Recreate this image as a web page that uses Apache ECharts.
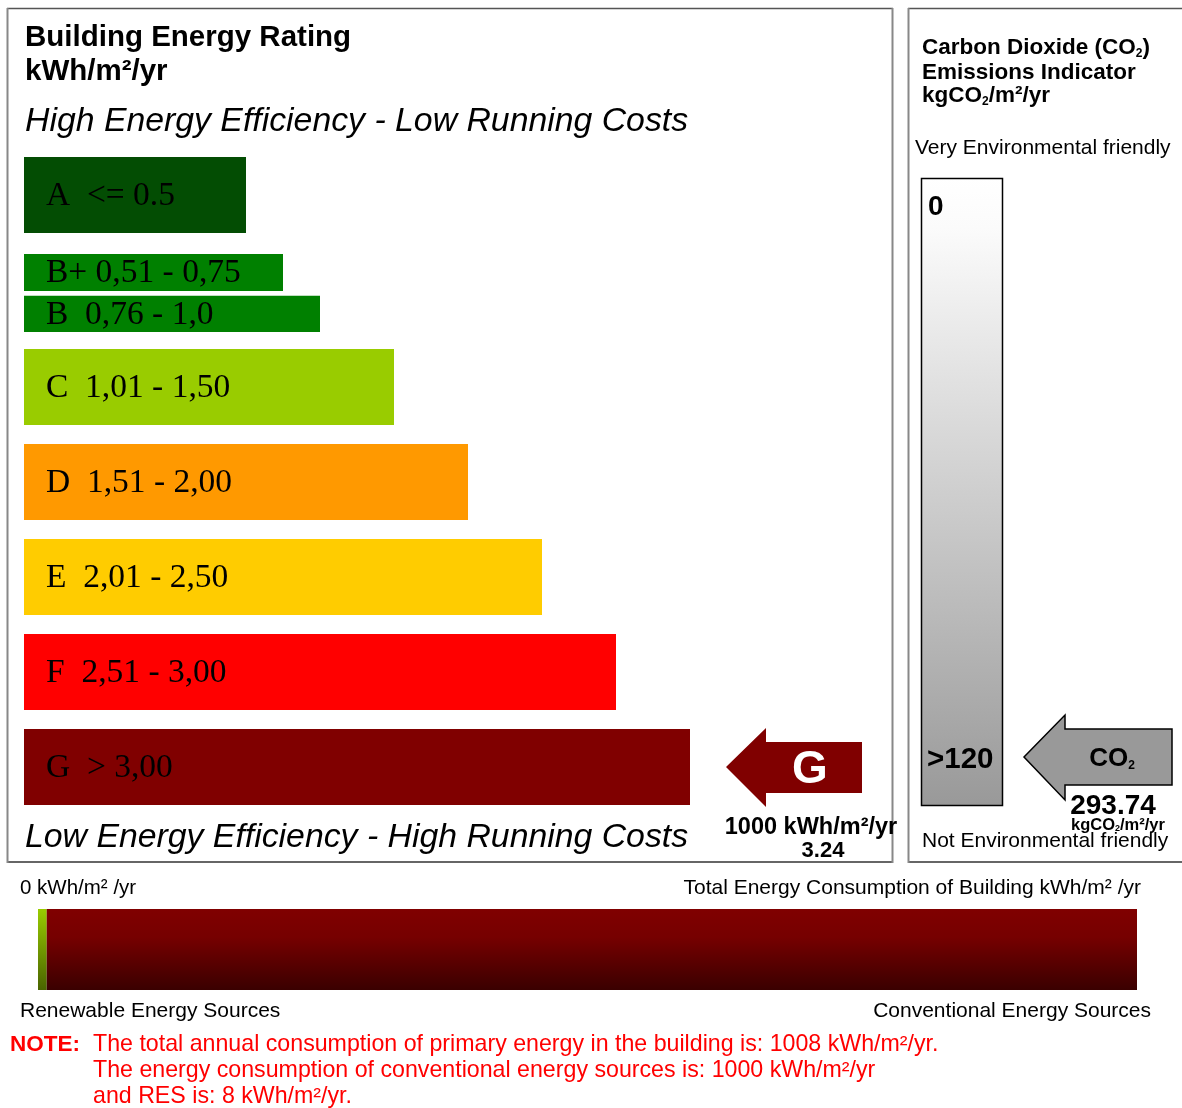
<!DOCTYPE html>
<html>
<head>
<meta charset="utf-8">
<script src="https://cdn.jsdelivr.net/npm/echarts@6/dist/echarts.min.js"></script>
<style>
html,body{margin:0;padding:0;background:#fff;}
#chart{width:1182px;height:1108px;}
</style>
</head>
<body>
<div id="chart"></div>
<script>
// ---------------- data ----------------
const ratingLabels = ['A  <= 0.5', 'B+ 0,51 - 0,75', 'B  0,76 - 1,0', 'C  1,01 - 1,50', 'D  1,51 - 2,00', 'E  2,01 - 2,50', 'F  2,51 - 3,00', 'G  > 3,00'];
const ratingClasses = ['A', 'B+', 'B', 'C', 'D', 'E', 'F', 'G'];
const ratingLengths = [6, 7, 8, 10, 12, 14, 16, 18];
const ratingColors = ['#034d03', '#008000', '#008000', '#99cc00', '#ff9900', '#ffcc00', '#ff0000', '#800000'];
const buildingClass = 'G';
const buildingEnergy = 1000;
const buildingRatio = 3.24;
const co2Value = 293.74;
const co2ScaleMax = 120;
const co2ScaleLabels = ['0', '>120'];
const resEnergy = 8;
const conventionalEnergy = 1000;
const totalEnergy = 1008;

// ---------------- layout helpers ----------------
const SANS = '"Liberation Sans", Arial, sans-serif';
const SERIF = '"Liberation Serif", "Times New Roman", serif';
// vertical extent (in row units) of each rating bar
const rowSpans = [[-0.021, 0.78], [1.0, 1.39], [1.44, 1.82], [2, 2.8], [3, 3.8], [4, 4.8], [5, 5.8], [6, 6.8]];
const buildingIdx = ratingClasses.indexOf(buildingClass);

function txt(x, y, text, font, opts) {
  opts = opts || {};
  return {
    type: 'text', x: x, y: y, silent: true,
    style: {
      text: text, font: font, fill: opts.fill || '#000',
      align: opts.align || 'left', verticalAlign: 'middle'
    }
  };
}
function richText(x, y, text, size, weight, opts) {
  opts = opts || {};
  const fill = opts.fill || '#000';
  return {
    type: 'text', x: x, y: y, silent: true,
    style: {
      text: text, align: opts.align || 'left', verticalAlign: 'middle',
      fontSize: size, fontWeight: weight, fontFamily: SANS, fill: fill,
      rich: {
        n: {fontSize: size, fontWeight: weight, fontFamily: SANS, fill: fill},
        sub: {fontSize: Math.round(size * 0.55), fontWeight: weight, fontFamily: SANS, fill: fill, verticalAlign: 'bottom'}
      }
    }
  };
}
function line(x1, y1, x2, y2, color, w) {
  return {type: 'line', silent: true, shape: {x1: x1, y1: y1, x2: x2, y2: y2}, style: {stroke: color, lineWidth: w}};
}

const chart = echarts.init(document.getElementById('chart'), null, {renderer: 'canvas'});

const option = {
  backgroundColor: '#fff',
  animation: false,
  grid: [
    {left: 24, top: 159, width: 851, height: 665},
    {left: 921, top: 178, width: 81, height: 627},
    {left: 38, top: 909, width: 1099, height: 81}
  ],
  xAxis: [
    {type: 'value', gridIndex: 0, min: 0, max: 23, show: false},
    {type: 'value', gridIndex: 1, min: 0, max: 1, show: false},
    {type: 'value', gridIndex: 2, min: 0, max: totalEnergy, show: false}
  ],
  yAxis: [
    {type: 'value', gridIndex: 0, min: 0, max: 7, inverse: true, show: false},
    {type: 'value', gridIndex: 1, min: 0, max: co2ScaleMax, inverse: true, show: false},
    {type: 'category', gridIndex: 2, data: ['energy'], show: false}
  ],
  series: [
    // rating bars
    {
      type: 'custom', xAxisIndex: 0, yAxisIndex: 0, clip: false,
      data: ratingLengths.map((v, i) => [v, i]),
      encode: {x: 0, y: 1},
      renderItem: function (params, api) {
        const len = api.value(0), i = api.value(1);
        const p0 = api.coord([0, rowSpans[i][0]]);
        const p1 = api.coord([len, rowSpans[i][1]]);
        return {
          type: 'group',
          children: [
            {type: 'rect', shape: {x: p0[0], y: p0[1], width: p1[0] - p0[0], height: p1[1] - p0[1]},
             style: {fill: ratingColors[i]}},
            {type: 'text', x: p0[0] + 22, y: (p0[1] + p1[1]) / 2 + 1,
             style: {text: ratingLabels[i], font: '33.5px ' + SERIF, fill: '#000', align: 'left', verticalAlign: 'middle'}}
          ]
        };
      }
    },
    // building rating arrow
    {
      type: 'custom', xAxisIndex: 0, yAxisIndex: 0, clip: false,
      data: [[ratingLengths[buildingIdx], buildingIdx]],
      encode: {x: 0, y: 1},
      renderItem: function (params, api) {
        const i = api.value(1);
        const pe = api.coord([api.value(0), (rowSpans[i][0] + rowSpans[i][1]) / 2]);
        const x0 = pe[0] + 36, yc = pe[1];
        const pts = [[0, 0], [40, -39], [40, -25], [136, -25], [136, 26], [40, 26], [40, 40]]
          .map(p => [x0 + p[0], yc + p[1]]);
        return {
          type: 'group',
          children: [
            {type: 'polygon', shape: {points: pts}, style: {fill: ratingColors[i]}},
            {type: 'text', x: x0 + 84, y: yc + 3,
             style: {text: ratingClasses[i], font: 'bold 46px ' + SANS, fill: '#fff', align: 'center', verticalAlign: 'middle'}},
            {type: 'text', x: x0 + 85, y: yc + 61,
             style: {text: buildingEnergy + ' kWh/m²/yr', font: 'bold 23.5px ' + SANS, fill: '#000', align: 'center', verticalAlign: 'middle'}},
            {type: 'text', x: x0 + 97, y: yc + 84,
             style: {text: buildingRatio.toFixed(2), font: 'bold 22px ' + SANS, fill: '#000', align: 'center', verticalAlign: 'middle'}}
          ]
        };
      }
    },
    // CO2 scale bar
    {
      type: 'custom', xAxisIndex: 1, yAxisIndex: 1, clip: false,
      data: [[1, co2ScaleMax]],
      encode: {x: 0, y: 1},
      renderItem: function (params, api) {
        const p0 = api.coord([0, 0]);
        const p1 = api.coord([api.value(0), api.value(1)]);
        return {
          type: 'group',
          children: [
            {type: 'rect', shape: {x: p0[0] + 0.5, y: p0[1] + 0.5, width: p1[0] - p0[0], height: p1[1] - p0[1]},
             style: {fill: new echarts.graphic.LinearGradient(0, 0, 0, 1, [
               {offset: 0, color: '#ffffff'}, {offset: 0.08, color: '#fbfbfb'}, {offset: 1, color: '#999999'}]),
               stroke: '#000', lineWidth: 1.5}},
            {type: 'text', x: p0[0] + 7, y: p0[1] + 29,
             style: {text: co2ScaleLabels[0], font: 'bold 28px ' + SANS, fill: '#000', align: 'left', verticalAlign: 'middle'}},
            {type: 'text', x: p0[0] + 6, y: p1[1] - 45,
             style: {text: co2ScaleLabels[1], font: 'bold 29.5px ' + SANS, fill: '#000', align: 'left', verticalAlign: 'middle'}}
          ]
        };
      }
    },
    // CO2 arrow
    {
      type: 'custom', xAxisIndex: 1, yAxisIndex: 1, clip: false,
      data: [[1, Math.min(co2Value, co2ScaleMax), co2Value]],
      encode: {x: 0, y: 1},
      renderItem: function (params, api) {
        const p = api.coord([api.value(0), api.value(1)]);
        const x0 = p[0] + 22, yc = p[1] - 48;
        const pts = [[0, 0], [41, -42], [41, -28], [148, -28], [148, 28], [41, 28], [41, 43]]
          .map(q => [x0 + q[0], yc + q[1]]);
        return {
          type: 'group',
          children: [
            {type: 'polygon', shape: {points: pts}, style: {fill: '#999999', stroke: '#000', lineWidth: 1.5}},
            {type: 'text', x: x0 + 88, y: yc + 2,
             style: {text: '{n|CO}{sub|2}', align: 'center', verticalAlign: 'middle',
               rich: {n: {font: 'bold 26px ' + SANS, fill: '#000'},
                      sub: {font: 'bold 12px ' + SANS, fill: '#000', verticalAlign: 'bottom'}}}},
            {type: 'text', x: x0 + 89, y: yc + 49,
             style: {text: api.value(2).toFixed(2), font: 'bold 28px ' + SANS, fill: '#000', align: 'center', verticalAlign: 'middle'}},
            {type: 'text', x: x0 + 94, y: yc + 68,
             style: {text: '{n|kgCO}{sub|2}{n|/m²/yr}', align: 'center', verticalAlign: 'middle',
               rich: {n: {font: 'bold 16.5px ' + SANS, fill: '#000'},
                      sub: {font: 'bold 9px ' + SANS, fill: '#000', verticalAlign: 'bottom'}}}}
          ]
        };
      }
    },
    // energy sources bar
    {
      type: 'bar', xAxisIndex: 2, yAxisIndex: 2, stack: 'energy', barWidth: '100%',
      data: [resEnergy],
      itemStyle: {color: new echarts.graphic.LinearGradient(0, 0, 0, 1, [
        {offset: 0, color: '#99cc00'}, {offset: 1, color: '#4a6400'}])},
      silent: true
    },
    {
      type: 'bar', xAxisIndex: 2, yAxisIndex: 2, stack: 'energy', barWidth: '100%',
      data: [conventionalEnergy],
      itemStyle: {color: new echarts.graphic.LinearGradient(0, 0, 0, 1, [
        {offset: 0, color: '#800000'}, {offset: 0.35, color: '#760000'}, {offset: 1, color: '#3a0000'}])},
      silent: true
    }
  ],
  graphic: [
    // panels
    line(7, 8.5, 893, 8.5, '#555', 1.5),
    line(7, 862, 893, 862, '#333', 1.5),
    line(7.5, 8, 7.5, 863, '#888', 2),
    line(892.5, 8, 892.5, 863, '#888', 2),
    line(908, 8.5, 1182, 8.5, '#555', 1.5),
    line(908, 862, 1182, 862, '#333', 1.5),
    line(908.5, 8, 908.5, 863, '#888', 2),
    // left panel texts
    txt(25, 38, 'Building Energy Rating', 'bold 29.5px ' + SANS),
    txt(25, 72, 'kWh/m²/yr', 'bold 29.5px ' + SANS),
    txt(25, 122, 'High Energy Efficiency - Low Running Costs', 'italic 33.8px ' + SANS),
    txt(25, 838, 'Low Energy Efficiency - High Running Costs', 'italic 33.8px ' + SANS),
    // right panel texts
    richText(922, 48, '{n|Carbon Dioxide (CO}{sub|2}{n|)}', 22.5, 'bold'),
    richText(922, 73, '{n|Emissions Indicator}', 22.5, 'bold'),
    richText(922, 96, '{n|kgCO}{sub|2}{n|/m²/yr}', 22.5, 'bold'),
    txt(915, 148, 'Very Environmental friendly', '21px ' + SANS),
    txt(922, 841, 'Not Environmental friendly', '21px ' + SANS),
    // bottom bar texts
    txt(20, 888, '0 kWh/m² /yr', '20.5px ' + SANS),
    txt(1141, 888, 'Total Energy Consumption of Building kWh/m² /yr', '21px ' + SANS, {align: 'right'}),
    txt(20, 1011, 'Renewable Energy Sources', '21px ' + SANS),
    txt(1151, 1011, 'Conventional Energy Sources', '21px ' + SANS, {align: 'right'}),
    // notes
    txt(10, 1045, 'NOTE:', 'bold 22.5px ' + SANS, {fill: '#ff0000'}),
    txt(93, 1045, 'The total annual consumption of primary energy in the building is: ' + totalEnergy + ' kWh/m²/yr.', '23.2px ' + SANS, {fill: '#ff0000'}),
    txt(93, 1071, 'The energy consumption of conventional energy sources is: ' + conventionalEnergy + ' kWh/m²/yr', '23.2px ' + SANS, {fill: '#ff0000'}),
    txt(93, 1097, 'and RES is: ' + resEnergy + ' kWh/m²/yr.', '23.2px ' + SANS, {fill: '#ff0000'})
  ]
};
chart.setOption(option);
</script>
</body>
</html>
